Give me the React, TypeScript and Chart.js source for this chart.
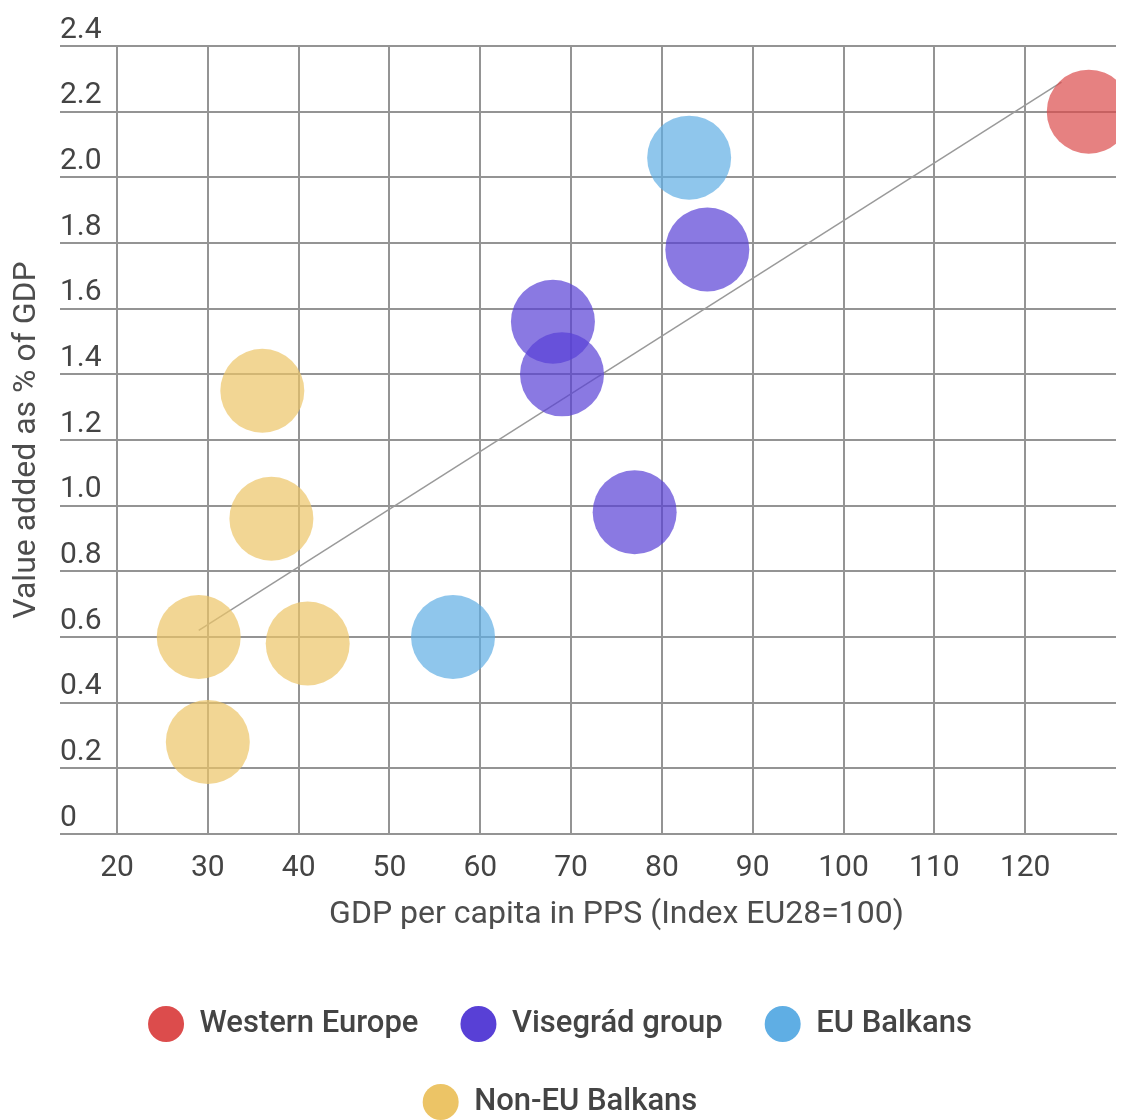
import React, { useEffect, useRef } from 'react';
import { Chart, registerables } from 'chart.js';

Chart.register(...registerables);

// ---- Data ----
const categories = ['Western Europe', 'Visegrád group', 'EU Balkans', 'Non-EU Balkans'];

const westernGdp = [127];
const westernValueAdded = [2.2];

const visegradGdp = [85, 68, 69, 77];
const visegradValueAdded = [1.78, 1.56, 1.4, 0.98];

const euBalkansGdp = [83, 57];
const euBalkansValueAdded = [2.06, 0.6];

const nonEuBalkansGdp = [36, 37, 29, 41, 30];
const nonEuBalkansValueAdded = [1.35, 0.96, 0.6, 0.58, 0.28];

const trendGdp = [29, 124];
const trendValueAdded = [0.62, 2.29];

const xTicks = [20, 30, 40, 50, 60, 70, 80, 90, 100, 110, 120];
const yTicks = [0, 0.2, 0.4, 0.6, 0.8, 1.0, 1.2, 1.4, 1.6, 1.8, 2.0, 2.2, 2.4];

// ---- Styles ----
const solidColors = ['rgb(220,76,76)', 'rgb(88,64,214)', 'rgb(95,174,228)', 'rgb(236,196,102)'];
const bubbleColors = [
  'rgba(220,76,76,0.7)',
  'rgba(88,64,214,0.7)',
  'rgba(95,174,228,0.7)',
  'rgba(236,196,102,0.7)',
];
const gridColor = '#949494';
const textColor = '#444444';
const titleColor = '#4d4d4d';
const FONT = 'Roboto, "Noto Sans", sans-serif';

const toPoints = (xs: number[], ys: number[]) => xs.map((x, i) => ({ x, y: ys[i] }));

export default function App() {
  const ref = useRef<HTMLCanvasElement | null>(null);

  useEffect(() => {
    document.body.style.margin = '0';
    const canvas = ref.current;
    if (!canvas) return;

    const seriesX = [westernGdp, visegradGdp, euBalkansGdp, nonEuBalkansGdp];
    const seriesY = [westernValueAdded, visegradValueAdded, euBalkansValueAdded, nonEuBalkansValueAdded];

    const datasets: any[] = categories.map((label, i) => ({
      label,
      data: toPoints(seriesX[i], seriesY[i]),
      backgroundColor: bubbleColors[i],
      borderWidth: 0,
      borderColor: 'transparent',
      pointRadius: 42,
      pointHoverRadius: 42,
    }));
    datasets.push({
      label: 'Trend',
      data: toPoints(trendGdp, trendValueAdded),
      showLine: true,
      borderColor: '#9a9a9a',
      borderWidth: 1.5,
      pointRadius: 0,
      fill: false,
    });

    const chart = new Chart(canvas, {
      type: 'scatter',
      data: { datasets },
      options: {
        animation: false,
        responsive: false,
        events: [],
        layout: { autoPadding: false, padding: { top: 46, right: 12, bottom: -10, left: 0 } },
        plugins: {
          tooltip: { enabled: false },
          legend: {
            position: 'bottom',
            labels: {
              font: { family: FONT, size: 31, weight: '500' },
              color: textColor,
              boxWidth: 36,
              boxHeight: 36,
              useBorderRadius: true,
              borderRadius: 18,
              padding: 42,
              generateLabels: (c: any) => {
                const items = Chart.defaults.plugins.legend.labels.generateLabels(c);
                return items
                  .filter((it: any) => it.datasetIndex < categories.length)
                  .map((it: any) => ({
                    ...it,
                    fillStyle: solidColors[it.datasetIndex],
                    strokeStyle: 'transparent',
                    lineWidth: 0,
                    borderRadius: 18,
                  }));
              },
            },
          },
        },
        scales: {
          x: {
            type: 'linear',
            min: 20,
            max: 130,
            afterBuildTicks: (s: any) => {
              s.ticks = [...xTicks, 130].map((v) => ({ value: v }));
            },
            afterFit: (s: any) => {
              s.height = 130;
            },
            ticks: {
              font: { family: FONT, size: 30 },
              color: textColor,
              padding: 16,
              maxRotation: 0,
              callback: (v: any) => (xTicks.includes(Number(v)) ? String(v) : ''),
            },
            grid: {
              color: (ctx: any) => (ctx.tick && ctx.tick.value === 130 ? 'rgba(0,0,0,0)' : gridColor),
              lineWidth: 2,
              drawTicks: false,
            },
            border: { color: gridColor, width: 2 },
            title: {
              display: true,
              text: 'GDP per capita in PPS (Index EU28=100)',
              font: { family: FONT, size: 32 },
              color: titleColor,
              padding: { top: 0, bottom: 29.8 },
            },
          },
          y: {
            type: 'linear',
            min: 0,
            max: 2.4,
            afterBuildTicks: (s: any) => {
              s.ticks = yTicks.map((v) => ({ value: v }));
            },
            afterFit: (s: any) => {
              s.width = 117;
            },
            ticks: {
              font: { family: FONT, size: 30 },
              color: textColor,
              mirror: true,
              padding: -57,
              labelOffset: -16,
              callback: (v: any) => (Number(v) === 0 ? '0' : Number(v).toFixed(1)),
            },
            grid: {
              color: gridColor,
              lineWidth: 2,
              drawTicks: true,
              tickLength: 57,
            },
            border: { color: gridColor, width: 2 },
            title: {
              display: true,
              text: 'Value added as % of GDP',
              font: { family: FONT, size: 32 },
              color: titleColor,
              padding: { top: 8, bottom: 0 },
            },
          },
        },
      },
    });

    return () => chart.destroy();
  }, []);

  return (
    <div style={{ width: 1132, height: 1120 }}>
      <canvas ref={ref} width={1132} height={1120} style={{ display: 'block', width: 1132, height: 1120 }} />
    </div>
  );
}
